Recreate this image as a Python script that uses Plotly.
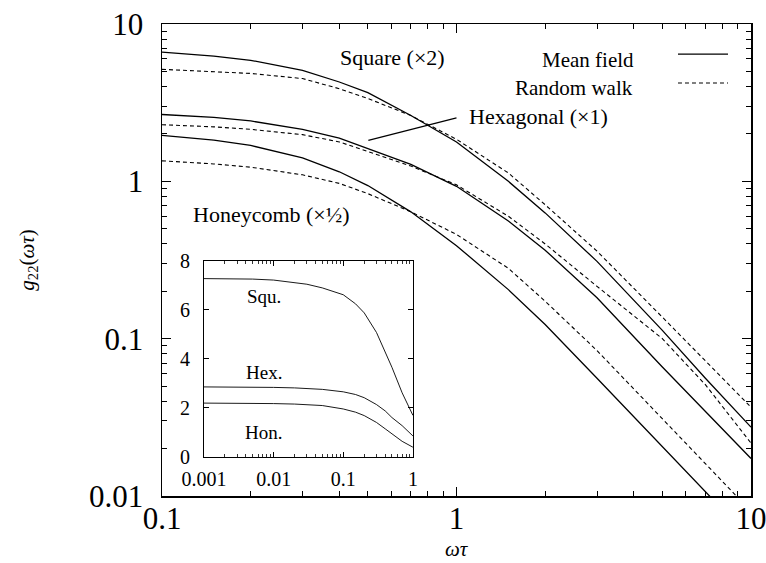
import plotly.graph_objects as go

# ---- data ----
omega = [0.1, 0.15, 0.2, 0.3, 0.4, 0.5, 0.7, 1.0, 1.5, 2.0, 3.0, 5.0, 7.0, 10.0]

square_mf = [6.62, 6.25, 5.88, 5.08, 4.28, 3.66, 2.62, 1.78, 1.00, 0.63, 0.31, 0.113, 0.056, 0.0274]
square_rw = [5.15, 5.00, 4.85, 4.50, 3.88, 3.36, 2.62, 1.85, 1.13, 0.71, 0.36, 0.137, 0.072, 0.0367]
hex_mf = [2.66, 2.55, 2.42, 2.14, 1.88, 1.61, 1.28, 0.93, 0.56, 0.365, 0.182, 0.066, 0.0345, 0.0173]
hex_rw = [2.29, 2.22, 2.14, 1.98, 1.78, 1.54, 1.25, 0.95, 0.60, 0.40, 0.215, 0.10, 0.051, 0.0217]
hon_mf = [1.96, 1.83, 1.69, 1.41, 1.15, 0.94, 0.64, 0.39, 0.205, 0.123, 0.056, 0.0208, 0.0109, 0.0053]
hon_rw = [1.35, 1.29, 1.23, 1.10, 0.97, 0.835, 0.64, 0.46, 0.28, 0.173, 0.084, 0.031, 0.016, 0.008]

inset_omega = [0.001, 0.002, 0.005, 0.01, 0.02, 0.03, 0.05, 0.1, 0.15, 0.2, 0.3, 0.4, 0.5, 0.7, 1.0]
inset_squ = [7.28, 7.28, 7.26, 7.22, 7.13, 7.05, 6.90, 6.62, 6.25, 5.88, 5.08, 4.28, 3.66, 2.62, 1.70]
inset_hex = [2.86, 2.86, 2.85, 2.84, 2.82, 2.80, 2.76, 2.66, 2.55, 2.42, 2.14, 1.88, 1.61, 1.28, 0.86]
inset_hon = [2.20, 2.20, 2.19, 2.18, 2.16, 2.14, 2.10, 1.96, 1.83, 1.69, 1.41, 1.15, 0.94, 0.64, 0.40]

main_xticks = [0.1, 1, 10]
main_xtext = ["0.1", "1", "10"]
main_yticks = [0.01, 0.1, 1, 10]
main_ytext = ["0.01", "0.1", "1", "10"]
inset_xticks = [0.001, 0.01, 0.1, 1]
inset_xtext = ["0.001", "0.01", "0.1", "1"]
inset_yticks = [0, 2, 4, 6, 8]


def minor_log(lo_exp, hi_exp):
    return [m * 10.0 ** e for e in range(lo_exp, hi_exp) for m in range(2, 10)]


main_xminor = minor_log(-1, 1)
main_yminor = minor_log(-2, 1)
inset_xminor = minor_log(-3, 0)

# leader line for "Hexagonal" label (data coordinates)
leader_x = [0.502, 1.0]
leader_y = [1.82, 2.53]

FONT = "Liberation Serif"
fig = go.Figure()

solid = dict(color="black", width=1.3)
dashed = dict(color="black", width=1.1, dash="4px,3px")

for ys, ln in [(square_mf, solid), (square_rw, dashed), (hex_mf, solid),
               (hex_rw, dashed), (hon_mf, solid), (hon_rw, dashed)]:
    fig.add_trace(go.Scatter(x=omega, y=ys, mode="lines", line=ln,
                             showlegend=False, hoverinfo="skip",
                             xaxis="x", yaxis="y"))

fig.add_trace(go.Scatter(x=leader_x, y=leader_y, mode="lines",
                         line=dict(color="black", width=1.2),
                         showlegend=False, hoverinfo="skip"))

thin = dict(color="black", width=0.9)
for ys in [inset_squ, inset_hex, inset_hon]:
    fig.add_trace(go.Scatter(x=inset_omega, y=ys, mode="lines", line=thin,
                             showlegend=False, hoverinfo="skip",
                             xaxis="x2", yaxis="y2"))

axis_common = dict(showgrid=False, zeroline=False, showline=True,
                   linecolor="black", ticks="inside", automargin=False,
                   mirror="allticks", tickcolor="black", ticklabeloverflow="allow")

fig.update_layout(
    width=766, height=563,
    margin=dict(l=162, r=15, t=24, b=67),
    paper_bgcolor="white", plot_bgcolor="white",
    font=dict(family=FONT, color="black"),
    xaxis=dict(type="log", range=[-1, 1], tickvals=main_xticks, ticktext=main_xtext,
               ticklen=9, tickwidth=1.2, tickfont=dict(size=31, family=FONT),
               ticklabelstandoff=-6, linewidth=1.5,
               minor=dict(ticks="inside", ticklen=5, tickwidth=1, tickvals=main_xminor,
                          showgrid=False, tickcolor="black"),
               **axis_common),
    yaxis=dict(type="log", range=[-2, 1], tickvals=main_yticks, ticktext=main_ytext,
               ticklen=9, tickwidth=1.2, tickfont=dict(size=31, family=FONT),
               ticklabelstandoff=11, linewidth=1.5,
               minor=dict(ticks="inside", ticklen=5, tickwidth=1, tickvals=main_yminor,
                          showgrid=False, tickcolor="black"),
               **axis_common),
    xaxis2=dict(type="log", range=[-3, 0], domain=[0.0713, 0.426], anchor="y2",
                tickvals=inset_xticks, ticktext=inset_xtext,
                ticklen=5, tickwidth=1, tickfont=dict(size=20, family=FONT),
                ticklabelstandoff=4, linewidth=1.1,
                minor=dict(ticks="inside", ticklen=3, tickwidth=0.8, tickvals=inset_xminor,
                           showgrid=False, tickcolor="black"),
                **axis_common),
    yaxis2=dict(range=[0, 8], domain=[0.0826, 0.498], anchor="x2",
                tickvals=inset_yticks, ticklen=5, tickwidth=1,
                tickfont=dict(size=20, family=FONT), ticklabelstandoff=9,
                linewidth=1.1, **axis_common),
)

ann_font = dict(family=FONT, size=22, color="black")
leg_font = dict(family=FONT, size=21, color="black")
ins_font = dict(family=FONT, size=19, color="black")
annotations = [
    dict(text="Square (×2)", x=-0.216, y=0.788, xref="x", yref="y", showarrow=False,
         font=ann_font, xanchor="center", yanchor="middle"),
    dict(text="Hexagonal (×1)", x=0.277, y=0.413, xref="x", yref="y", showarrow=False,
         font=ann_font, xanchor="center", yanchor="middle"),
    dict(text="Honeycomb (×½)", x=-0.627, y=-0.21, xref="x", yref="y", showarrow=False,
         font=ann_font, xanchor="center", yanchor="middle"),
    dict(text="Mean field", x=0.8048, y=0.9237, xref="paper", yref="paper",
         showarrow=False, font=leg_font, xanchor="right", yanchor="middle"),
    dict(text="Random walk", x=0.8031, y=0.8644, xref="paper", yref="paper",
         showarrow=False, font=leg_font, xanchor="right", yanchor="middle"),
    dict(text="Squ.", x=-2.14, y=6.53, xref="x2", yref="y2", showarrow=False,
         font=ins_font),
    dict(text="Hex.", x=-2.14, y=3.43, xref="x2", yref="y2", showarrow=False,
         font=ins_font),
    dict(text="Hon.", x=-2.14, y=0.98, xref="x2", yref="y2", showarrow=False,
         font=ins_font),
    dict(text="<i>ωτ</i>", x=0.5, y=-0.112, xref="paper", yref="paper",
         showarrow=False, font=dict(family=FONT, size=21, color="black"),
         xanchor="center", yanchor="middle"),
    dict(text="<i>g</i><sub>22</sub>(<i>ωτ</i>)", x=-0.228, y=0.5, xref="paper",
         yref="paper", showarrow=False, textangle=-90,
         xanchor="center", yanchor="middle",
         font=dict(family=FONT, size=21, color="black")),
]
fig.update_layout(annotations=annotations)

# legend sample lines (paper coordinates)
fig.add_shape(type="line", xref="paper", yref="paper", x0=0.876, x1=0.961,
              y0=0.936, y1=0.936, line=dict(color="black", width=1.2))
fig.add_shape(type="line", xref="paper", yref="paper", x0=0.876, x1=0.961,
              y0=0.875, y1=0.875, line=dict(color="black", width=1.1, dash="4px,3px"))

# remove the default page margin so the figure sits at the window's corner
fig.write_html("out.html",
               config={"displayModeBar": False, "staticPlot": True},
               post_script="document.body.style.margin='0';document.body.style.overflow='hidden';")
